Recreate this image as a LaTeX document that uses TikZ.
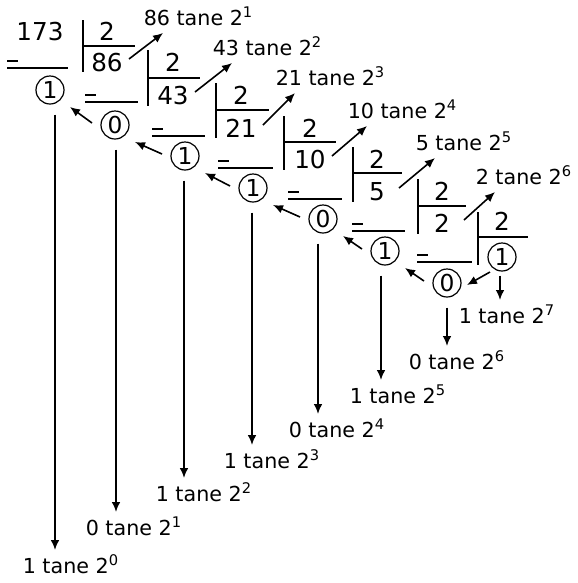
\documentclass[tikz,border=0pt]{standalone}
\usepackage{fontspec}
\setmainfont{DejaVu Sans}
\usetikzlibrary{arrows.meta}
\newcommand\supx[1]{\raisebox{6pt}{\fontsize{11}{11}\selectfont #1}}
\begin{document}
\begin{tikzpicture}[x=0.75pt,y=-0.75pt,
  line width=1.2pt,
  num/.style={inner sep=0pt, anchor=base, font=\fontsize{18.5}{19}\selectfont},
  lab/.style={inner sep=0pt, anchor=base west, font=\fontsize{15.5}{16}\selectfont},
  rem/.style={circle, draw, line width=0.9pt, inner sep=0pt, minimum size=21pt, font=\fontsize{17.5}{18}\selectfont},
  arr/.style={-{Latex[length=7.5pt,width=6.5pt]}, line width=1.2pt},
  rulex/.style={line width=1.2pt}]
\useasboundingbox (0,0) rectangle (578,583);

% dividends / quotients
\node[num] (n0) at (40,40) {173};
\node[num] (q1) at (107,71) {86};
\node[num] (q2) at (173,104) {43};
\node[num] (q3) at (241,137) {21};
\node[num] (q4) at (310,168) {10};
\node[num] (q5) at (377,200) {5};
\node[num] (q6) at (442,232) {2};
\node[rem] (q7) at (502,257) {1};

% divisors
\node[num] (d1) at (107,40) {2};
\node[num] (d2) at (173,71) {2};
\node[num] (d3) at (241,104) {2};
\node[num] (d4) at (310,137) {2};
\node[num] (d5) at (377,168) {2};
\node[num] (d6) at (442,200) {2};
\node[num] (d7) at (502,230) {2};

% bars and division lines
\foreach \bx/\ya/\yb/\hy/\he in {83/20/72/46/135, 148/50/106/78/200, 216/83/138/110/269,
    284/116/170/142/336, 353/147/202/173/402, 418/179/234/206/466, 478/212/265/237/528}{
  \draw[rulex] (\bx,\ya) -- (\bx,\yb);
  \draw[rulex] (\bx,\hy) -- (\he,\hy);
}

% minus signs and underlines
\foreach \sa/\se/\ly in {7/68/68, 85/138/102, 152/205/136, 218/273/168, 288/342/199, 352/405/231, 417/472/262}{
  \draw[rulex] (\sa,\ly) -- (\se,\ly);
  \draw[rulex] (\sa,\ly-7) -- (\sa+11,\ly-7);
}

% remainders
\node[rem] (r1) at (50,90) {1};
\node[rem] (r2) at (115,125) {0};
\node[rem] (r3) at (185,156) {1};
\node[rem] (r4) at (253,188) {1};
\node[rem] (r5) at (323,219) {0};
\node[rem] (r6) at (385,251) {1};
\node[rem] (r7) at (447,283) {0};

% upper labels
\node[lab] (u1) at (143,25) {86 tane 2\supx{1}};
\node[lab] (u2) at (212,55) {43 tane 2\supx{2}};
\node[lab] (u3) at (275,85) {21 tane 2\supx{3}};
\node[lab] (u4) at (347,118) {10 tane 2\supx{4}};
\node[lab] (u5) at (415,150) {5 tane 2\supx{5}};
\node[lab] (u6) at (475,184) {2 tane 2\supx{6}};

% lower labels
\node[lab] (l0) at (22,573) {1 tane 2\supx{0}};
\node[lab] (l1) at (85,535) {0 tane 2\supx{1}};
\node[lab] (l2) at (155,501) {1 tane 2\supx{2}};
\node[lab] (l3) at (223,468) {1 tane 2\supx{3}};
\node[lab] (l4) at (288,437) {0 tane 2\supx{4}};
\node[lab] (l5) at (349,403) {1 tane 2\supx{5}};
\node[lab] (l6) at (408,369) {0 tane 2\supx{6}};
\node[lab] (l7) at (458,323) {1 tane 2\supx{7}};

% arrows quotient -> upper label
\foreach \q/\u in {q1/u1,q2/u2,q3/u3,q4/u4,q5/u5,q6/u6}{
  \draw[arr] ([shift={(22,-12)}]\q.base) -- ([shift={(20,8)}]\u.base west);
}

% arrows between remainders
\foreach \a/\b in {r2/r1,r3/r2,r4/r3,r5/r4,r6/r5,r7/r6}{
  \draw[arr] ([shift={(-23,-2)}]\a.center) -- ([shift={(20,17)}]\b.center);
}
\draw[arr] ([shift={(-12,15)}]q7.center) -- ([shift={(20,2)}]r7.center);

% vertical arrows remainder -> lower label
\foreach \r/\l/\dx in {r1/l0/5, r2/l1/1, r3/l2/-1, r4/l3/-1, r5/l4/-5, r6/l5/-4, r7/l6/0}{
  \draw[arr] ([shift={(\dx,10)}]\r.south) -- ([shift={(\dx,-23)}]\r.south |- \l.base west);
}
\draw[arr] ([shift={(-2,4)}]q7.south) -- ([shift={(-2,-23)}]q7.south |- l7.base west);
\end{tikzpicture}
\end{document}
